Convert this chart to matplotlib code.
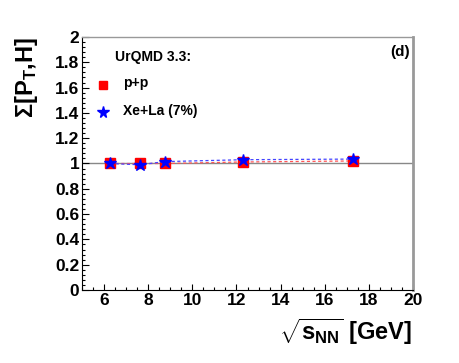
import matplotlib
matplotlib.use("Agg")
import matplotlib.pyplot as plt
from matplotlib.ticker import MultipleLocator

plt.rcParams['font.family'] = ['Liberation Sans', 'DejaVu Sans']
plt.rcParams['font.weight'] = 'bold'
plt.rcParams['mathtext.fontset'] = 'custom'
plt.rcParams['mathtext.rm'] = 'Liberation Sans:bold'
plt.rcParams['mathtext.it'] = 'Liberation Sans:bold'
plt.rcParams['mathtext.bf'] = 'Liberation Sans:bold'

energies = [6.27, 7.62, 8.76, 12.3, 17.3]
pp_values = [1.0, 1.0, 1.0, 1.012, 1.02]
xela_values = [1.0, 0.99, 1.015, 1.03, 1.035]

fig = plt.figure(figsize=(4.59, 3.63), dpi=100)
ax = fig.add_axes([82/459, 1-290/363, (413-82)/459, (290-37)/363])

ax.set_xlim(5, 20)
ax.set_ylim(0, 2)
ax.axhline(1.0, color='#888888', lw=1.0, zorder=1)

ax.plot(energies, pp_values, ls=(0, (2.5, 2)), color='#ff5555', lw=0.9, zorder=2)
ax.plot(energies, pp_values, ls='none', marker='s', ms=7, color='red', zorder=3)
ax.plot(energies, xela_values, ls=(0, (2.5, 2)), color='#4444ff', lw=0.9, zorder=4)
ax.plot(energies, xela_values, ls='none', marker='*', ms=9, color='blue', zorder=5)

ax.xaxis.set_major_locator(MultipleLocator(2))
ax.xaxis.set_minor_locator(MultipleLocator(0.5))
ax.yaxis.set_major_locator(MultipleLocator(0.2))
ax.yaxis.set_minor_locator(MultipleLocator(0.04))
ax.tick_params(which='both', direction='in', top=False, right=False, labelsize=12.5, pad=2)
ax.tick_params(axis='y', which='major', length=5, width=0.8)
ax.tick_params(axis='y', which='minor', length=2.5, width=0.8)
ax.tick_params(axis='x', which='major', length=4, width=0.8)
ax.tick_params(axis='x', which='minor', length=2.5, width=0.8)
ax.set_yticks([0, 0.2, 0.4, 0.6, 0.8, 1, 1.2, 1.4, 1.6, 1.8, 2])
ax.set_yticklabels(['0', '0.2', '0.4', '0.6', '0.8', '1', '1.2', '1.4', '1.6', '1.8', '2'])
ax.set_xticks([6, 8, 10, 12, 14, 16, 18, 20])
ax.set_xticklabels(['6', '8', '10', '12', '14', '16', '18', '20'])
for lbl in ax.get_xticklabels() + ax.get_yticklabels():
    lbl.set_fontweight('bold')

ax.spines['right'].set_color('#999999')
ax.spines['right'].set_linewidth(2)
ax.spines['top'].set_color('#999999')
ax.spines['top'].set_linewidth(1)
ax.spines['left'].set_linewidth(0.8)
ax.spines['bottom'].set_linewidth(0.8)

fig.text(27/459, 1-37/363, r'$\Sigma$[P$_{\rm T}$,H]', rotation=90, ha='center', va='top',
         fontsize=17, fontweight='bold')
fig.text(412/459, 1-332/363, r'$\sqrt{\rm s_{NN}}$ [GeV]', ha='right', va='center',
         fontsize=17, fontweight='bold')

ax.text(0.10, 0.921, 'UrQMD 3.3:', transform=ax.transAxes, fontsize=10, fontweight='bold', va='center')
ax.plot([0.063], [0.81], transform=ax.transAxes, marker='s', ms=6, color='red', clip_on=False)
ax.text(0.124, 0.818, 'p+p', transform=ax.transAxes, fontsize=10, fontweight='bold', va='center')
ax.plot([0.063], [0.704], transform=ax.transAxes, marker='*', ms=8.5, color='blue', clip_on=False)
ax.text(0.124, 0.707, 'Xe+La (7%)', transform=ax.transAxes, fontsize=10, fontweight='bold', va='center')
ax.text(0.992, 0.94, '(d)', transform=ax.transAxes, fontsize=11, fontweight='bold', va='center', ha='right')

fig.savefig('out.png', dpi=100)
